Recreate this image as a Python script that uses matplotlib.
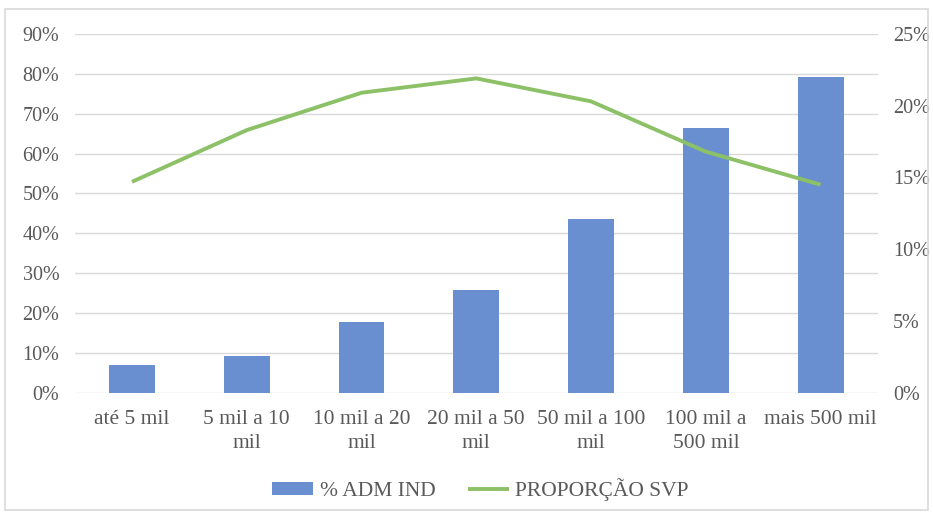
import matplotlib.pyplot as plt
from matplotlib.patches import Rectangle
from matplotlib.ticker import PercentFormatter

categories = ['até 5 mil', '5 mil a 10\nmil', '10 mil a 20\nmil', '20 mil a 50\nmil',
              '50 mil a 100\nmil', '100 mil a\n500 mil', 'mais 500 mil']
adm_ind = [7.0, 9.2, 17.7, 25.8, 43.5, 66.4, 79.3]
proporcao_svp = [14.7, 18.3, 20.9, 21.9, 20.3, 16.8, 14.5]

plt.rcParams['font.family'] = ['Liberation Serif', 'DejaVu Serif']
txt = '#595959'

fig = plt.figure(figsize=(9.33, 5.13), dpi=100)
fig.patches.append(Rectangle((0.005, 0.005), 0.99, 0.978, transform=fig.transFigure,
                             fill=False, edgecolor='#d9d9d9', linewidth=1.2))

ax = fig.add_axes([0.080, 0.234, 0.861, 0.700])
x = list(range(len(categories)))
ax.bar(x, adm_ind, width=0.4, color='#6a8fd0', label='% ADM IND', zorder=2)
ax.set_ylim(0, 90)
ax.set_yticks(range(0, 91, 10))
ax.yaxis.set_major_formatter(PercentFormatter(decimals=0))
ax.set_xlim(-0.5, len(categories) - 0.5)
ax.set_xticks(x)
ax.set_xticklabels(categories, linespacing=1.4)
ax.grid(True, axis='y', color='#d9d9d9', linewidth=1, zorder=0)
ax.set_axisbelow(True)
for s in ax.spines.values():
    s.set_visible(False)
ax.tick_params(length=0, labelcolor=txt)
ax.tick_params(axis='y', pad=11, labelsize=14.5)
ax.tick_params(axis='x', pad=12, labelsize=15.5)

ax2 = ax.twinx()
ax2.plot(x, proporcao_svp, color='#8cc168', linewidth=2.8, label='PROPORÇÃO SVP',
         solid_capstyle='butt', zorder=3)
ax2.set_ylim(0, 25)
ax2.set_yticks(range(0, 26, 5))
ax2.yaxis.set_major_formatter(PercentFormatter(decimals=0))
for s in ax2.spines.values():
    s.set_visible(False)
ax2.tick_params(length=0, labelsize=14.5, labelcolor=txt, pad=11)

h1, l1 = ax.get_legend_handles_labels()
h2, l2 = ax2.get_legend_handles_labels()
fig.legend(h1 + h2, l1 + l2, loc='center', bbox_to_anchor=(0.515, 0.046), ncol=2,
           frameon=False, fontsize=15.5, labelcolor=txt, handlelength=1.9,
           handleheight=0.56, columnspacing=1.5, handletextpad=0.3)

fig.savefig('out.png', dpi=100)
